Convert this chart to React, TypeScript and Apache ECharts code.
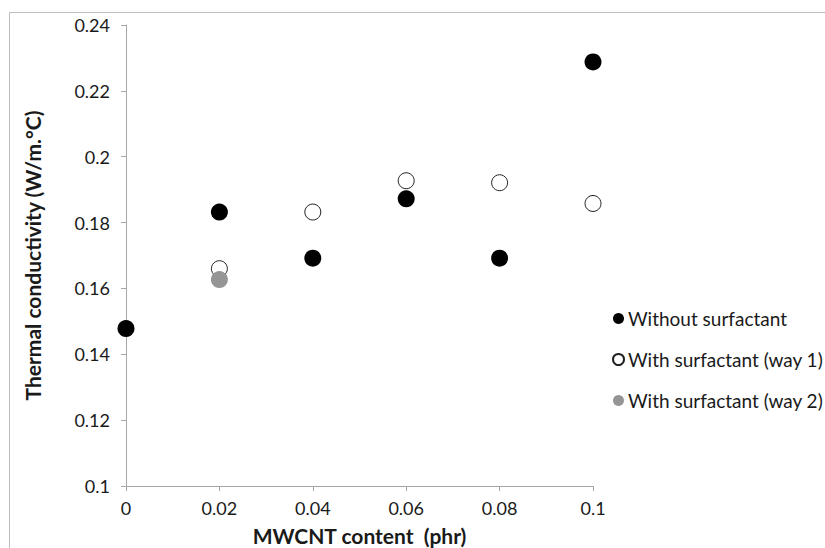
import React, { useEffect, useRef } from "react";
import * as echarts from "echarts";

const xValues = [0, 0.02, 0.04, 0.06, 0.08, 0.1];
const withoutSurfactant = [0.1478, 0.1832, 0.1692, 0.1872, 0.1692, 0.2288];
const way1X = [0.02, 0.04, 0.06, 0.08, 0.1];
const way1 = [0.166, 0.1832, 0.1927, 0.1921, 0.1858];
const way2X = [0.02];
const way2 = [0.1627];
const yTicks = [0.1, 0.12, 0.14, 0.16, 0.18, 0.2, 0.22, 0.24];

const FONT = "Lato, 'Open Sans', sans-serif";

export default function App() {
  const ref = useRef<HTMLDivElement>(null);
  useEffect(() => {
    if (!ref.current) return;
    const chart = echarts.init(ref.current, undefined, { renderer: "svg" });
    const pair = (xs: number[], ys: number[]) => xs.map((x, i) => [x, ys[i]]);
    chart.setOption({
      animation: false,
      backgroundColor: "#fff",
      textStyle: { fontFamily: FONT },
      grid: { left: 126, right: 232, top: 25, bottom: 62, containLabel: false, outerBoundsMode: "none" },
      xAxis: {
        type: "value",
        min: 0,
        max: 0.1,
        interval: 0.02,
        name: "MWCNT content  (phr)",
        nameLocation: "middle",
        nameGap: 39,
        nameTextStyle: { fontFamily: FONT, fontSize: 21, fontWeight: "bold", color: "#1a1a1a" },
        axisLine: { show: true, lineStyle: { color: "#a6a6a6", width: 1 } },
        axisTick: { show: true, length: 5, lineStyle: { color: "#a6a6a6" } },
        axisLabel: {
          fontFamily: FONT,
          fontSize: 18,
          color: "#1a1a1a",
          margin: 13,
          formatter: (v: number) => String(parseFloat(v.toFixed(2))),
        },
        splitLine: { show: false },
      },
      yAxis: {
        type: "value",
        min: 0.1,
        max: 0.24,
        interval: 0.02,
        name: "Thermal conductivity (W/m.°C)",
        nameLocation: "middle",
        nameGap: 83,
        nameTextStyle: { fontFamily: FONT, fontSize: 21, fontWeight: "bold", color: "#1a1a1a" },
        axisLine: { show: true, lineStyle: { color: "#a6a6a6", width: 1 } },
        axisTick: { show: true, length: 5, lineStyle: { color: "#a6a6a6" } },
        axisLabel: {
          fontFamily: FONT,
          fontSize: 18,
          color: "#1a1a1a",
          margin: 16,
          formatter: (v: number) => {
            const t = yTicks.find((y) => Math.abs(y - v) < 1e-9);
            return String(parseFloat((t ?? v).toFixed(2)));
          },
        },
        splitLine: { show: false },
      },
      legend: {
        orient: "vertical",
        left: 607,
        top: 304,
        icon: "circle",
        itemWidth: 11,
        itemHeight: 11,
        itemGap: 22,
        textStyle: { fontFamily: FONT, fontSize: 19, color: "#1a1a1a", padding: [0, 0, 0, -1] },
        data: ["Without surfactant", "With surfactant (way 1)", "With surfactant (way 2)"],
      },
      series: [
        {
          name: "Without surfactant",
          type: "scatter",
          symbol: "circle",
          symbolSize: 17,
          itemStyle: { color: "#000", opacity: 1 },
          data: pair(xValues, withoutSurfactant),
        },
        {
          name: "With surfactant (way 1)",
          type: "scatter",
          symbol: "circle",
          symbolSize: 16,
          itemStyle: { color: "#fff", borderColor: "#222", borderWidth: 1, opacity: 1 },
          data: pair(way1X, way1),
        },
        {
          name: "With surfactant (way 2)",
          type: "scatter",
          symbol: "circle",
          symbolSize: 17,
          itemStyle: { color: "#959595", opacity: 1 },
          data: pair(way2X, way2),
        },
      ],
      graphic: [
        { type: "line", shape: { x1: 9.5, y1: 12.5, x2: 825, y2: 12.5 }, style: { stroke: "#bdbdbd", lineWidth: 1 } },
        { type: "line", shape: { x1: 9.5, y1: 12.5, x2: 9.5, y2: 548 }, style: { stroke: "#bdbdbd", lineWidth: 1 } },
      ],
    });
    return () => chart.dispose();
  }, []);
  return <div ref={ref} style={{ width: 825, height: 548, position: "absolute", left: 0, top: 0 }} />;
}
